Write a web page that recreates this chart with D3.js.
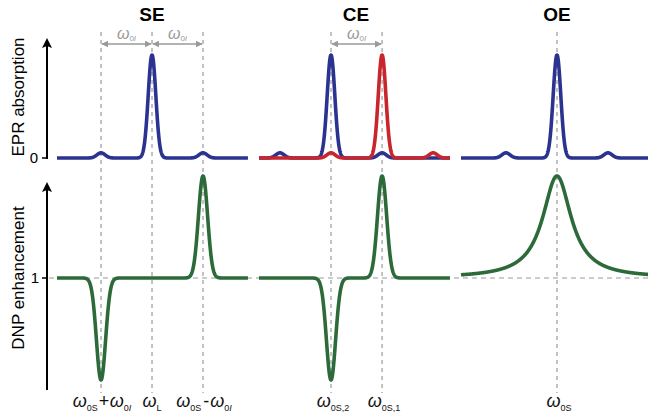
<!DOCTYPE html>
<html><head><meta charset="utf-8">
<script src="https://cdn.jsdelivr.net/npm/d3@7"></script>
<style>body{margin:0;background:#fff}svg{display:block;font-family:"Liberation Sans",Arial,Helvetica,sans-serif}</style>
</head><body><svg width="648" height="416"></svg>
<script>
// ---- data (frequency offsets in units of ω0I) ----
const mechanisms = ["SE", "CE", "OE"];
const panelDomains = [[-1.863, 1.882], [-1.91, 1.83], [-1.882, 1.863]];
const markerPositions = [[-1, 0, 1], [-0.5, 0.5], [0]];
const spacingArrows = [[[-1, 0], [0, 1]], [[-0.5, 0.5]], []];
// EPR absorption peaks: [center, height, width]
const seEPR = [[0, 1, 0.075], [-1, 0.05, 0.08], [1, 0.05, 0.08]];
const ceEPRblue = [[-0.5, 1, 0.075], [-1.5, 0.05, 0.08], [0.5, 0.05, 0.08]];
const ceEPRred = [[0.5, 1, 0.075], [-0.5, 0.05, 0.08], [1.5, 0.05, 0.08]];
const oeEPR = [[0, 1, 0.075], [-1, 0.05, 0.08], [1, 0.05, 0.08]];
// DNP enhancement features relative to 1: [center, amplitude, width]
const seDNP = [[-1, -1.0, 0.09], [1, 1.0, 0.09]];
const ceDNP = [[-0.5, -1.0, 0.09], [0.5, 1.0, 0.09]];
const oeDNP = [[0, 1.0, 0.34]];
const yTickTop = ["0"];
const yTickBottom = ["1"];

// ---- layout ----
const svg = d3.select("svg");
const panelRanges = [[57, 248], [259, 450], [461, 652]];
const yTop = d3.scaleLinear().domain([0, 1]).range([158, 55]);
const yBot = d3.scaleLinear().domain([0, 2]).range([380, 176]);
const BLUE = "#2a338f", RED = "#c9252c", GREEN = "#2c6a39", GRAY = "#9a9a9a";

svg.append("defs").html(`
<marker id="ah" viewBox="0 0 10 10" refX="9" refY="5" markerWidth="7" markerHeight="7" markerUnits="userSpaceOnUse" orient="auto-start-reverse"><path d="M0,0L10,5L0,10z" fill="${GRAY}"/></marker>
<marker id="bh" viewBox="0 0 10 10" refX="8" refY="5" markerWidth="10" markerHeight="12" markerUnits="userSpaceOnUse" orient="auto"><path d="M0,0L10,5L0,10L2,5z" fill="#000"/></marker>`);

const gauss = (peaks, base) => x => base + d3.sum(peaks, p => p[1] * Math.exp(-((x - p[0]) ** 2) / (2 * p[2] * p[2])));
const lor = (peaks, base) => x => base + d3.sum(peaks, p => p[1] / (1 + ((x - p[0]) / p[2]) ** 2));

function sample(dom, f) { return d3.range(dom[0], dom[1] + 1e-9, 0.004).map(x => [x, f(x)]); }

const xScales = panelDomains.map((d, i) => d3.scaleLinear().domain(d).range(panelRanges[i]));
const titleX = [152, 356, 557];

// horizontal dashed line at enhancement 1
svg.append("line").attr("x1", 49).attr("x2", 648).attr("y1", yBot(1)).attr("y2", yBot(1))
  .attr("stroke", GRAY).attr("stroke-width", 1.2).attr("stroke-dasharray", "5,4");

// vertical dashed markers
mechanisms.forEach((m, i) => {
  markerPositions[i].forEach(v => {
    svg.append("line").attr("x1", xScales[i](v)).attr("x2", xScales[i](v)).attr("y1", 32).attr("y2", 393)
      .attr("stroke", GRAY).attr("stroke-width", 1.2).attr("stroke-dasharray", "4,4");
  });
});

// spacing arrows
mechanisms.forEach((m, i) => {
  spacingArrows[i].forEach(a => {
    const x1 = xScales[i](a[0]), x2 = xScales[i](a[1]);
    svg.append("line").attr("x1", x1 + 1).attr("x2", x2 - 1).attr("y1", 44).attr("y2", 44)
      .attr("stroke", GRAY).attr("stroke-width", 1.3)
      .attr("marker-start", "url(#ah)").attr("marker-end", "url(#ah)");
    const t = svg.append("text").attr("x", (x1 + x2) / 2).attr("y", 39).attr("text-anchor", "middle").attr("fill", GRAY);
    t.append("tspan").text("ω").attr("font-style", "italic").attr("font-size", 16);
    t.append("tspan").text("0").attr("font-size", 8).attr("dy", 2);
    t.append("tspan").text("I").attr("font-size", 8).attr("font-style", "italic");
  });
});

// titles
mechanisms.forEach((m, i) => {
  svg.append("text").attr("x", titleX[i]).attr("y", 21).attr("text-anchor", "middle")
    .attr("font-weight", "bold").attr("font-size", 19).text(m);
});

// curves
const line = d3.line().curve(d3.curveLinear);
function drawCurve(i, f, yS, color) {
  const pts = sample(panelDomains[i], f);
  svg.append("path").attr("d", line(pts.map(p => [xScales[i](p[0]), yS(p[1])])))
    .attr("fill", "none").attr("stroke", color).attr("stroke-width", 3.6)
    .attr("stroke-linejoin", "round").attr("stroke-linecap", "butt");
}
drawCurve(0, gauss(seEPR, 0), yTop, BLUE);
drawCurve(1, gauss(ceEPRblue, 0), yTop, BLUE);
drawCurve(1, gauss(ceEPRred, 0), yTop, RED);
drawCurve(2, gauss(oeEPR, 0), yTop, BLUE);
drawCurve(0, gauss(seDNP, 1), yBot, GREEN);
drawCurve(1, gauss(ceDNP, 1), yBot, GREEN);
drawCurve(2, lor(oeDNP, 1), yBot, GREEN);

// y axes
svg.append("line").attr("x1", 47).attr("x2", 47).attr("y1", 159).attr("y2", 40)
  .attr("stroke", "#000").attr("stroke-width", 2).attr("marker-end", "url(#bh)");
svg.append("line").attr("x1", 42).attr("x2", 48).attr("y1", yTop(0)).attr("y2", yTop(0)).attr("stroke", "#000").attr("stroke-width", 1.5);
svg.append("text").attr("x", 38).attr("y", yTop(0) + 5).attr("text-anchor", "end").attr("font-size", 15).text(yTickTop[0]);
svg.append("line").attr("x1", 47).attr("x2", 47).attr("y1", 390).attr("y2", 184)
  .attr("stroke", "#000").attr("stroke-width", 2).attr("marker-end", "url(#bh)");
svg.append("line").attr("x1", 42).attr("x2", 48).attr("y1", yBot(1)).attr("y2", yBot(1)).attr("stroke", "#000").attr("stroke-width", 1.5);
svg.append("text").attr("x", 39).attr("y", yBot(1) + 5).attr("text-anchor", "end").attr("font-size", 15).text(yTickBottom[0]);

svg.append("text").attr("transform", "translate(24,97) rotate(-90)").attr("text-anchor", "middle").attr("font-size", 17).text("EPR absorption");
svg.append("text").attr("transform", "translate(24,278) rotate(-90)").attr("text-anchor", "middle").attr("font-size", 17).text("DNP enhancement");

// bottom frequency labels
function freqLabel(x, parts) {
  const t = svg.append("text").attr("x", x).attr("y", 407).attr("text-anchor", "middle").attr("fill", "#111");
  parts.forEach(p => {
    const s = t.append("tspan").text(p.t).attr("font-style", p.i ? "italic" : "normal")
      .attr("font-size", p.s ? 9 : 18).attr("dy", p.dy || 0);
    if (p.dx) s.attr("dx", p.dx);
  });
}
freqLabel(xScales[0](-1) + 1, [{t: "ω", i: 1}, {t: "0S", s: 1, dy: 4}, {t: "+", dy: -4, dx: 1}, {t: "ω", i: 1, dx: 0.5}, {t: "0", s: 1, dy: 4}, {t: "I", s: 1, i: 1}]);
freqLabel(xScales[0](0), [{t: "ω", i: 1}, {t: "L", s: 1, dy: 4}]);
freqLabel(xScales[0](1) + 1, [{t: "ω", i: 1}, {t: "0S", s: 1, dy: 4}, {t: "-", dy: -4, dx: 2}, {t: "ω", i: 1, dx: 1}, {t: "0", s: 1, dy: 4}, {t: "I", s: 1, i: 1}]);
freqLabel(xScales[1](-0.5) + 2, [{t: "ω", i: 1}, {t: "0S,2", s: 1, dy: 4}]);
freqLabel(xScales[1](0.5) + 2, [{t: "ω", i: 1}, {t: "0S,1", s: 1, dy: 4}]);
freqLabel(xScales[2](0) + 2, [{t: "ω", i: 1}, {t: "0S", s: 1, dy: 4}]);
</script></body></html>
